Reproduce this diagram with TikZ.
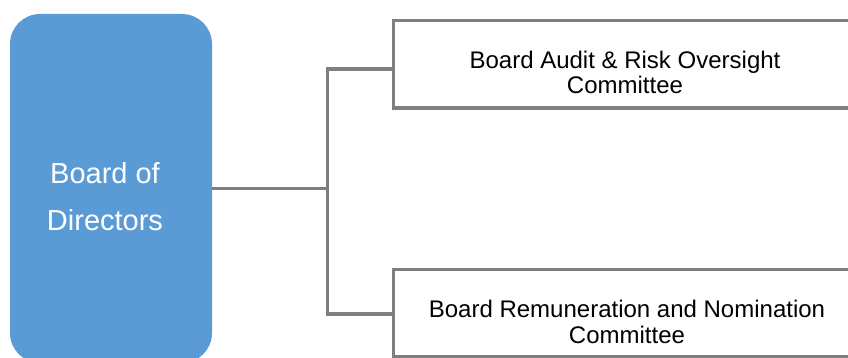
\documentclass[tikz,border=0pt]{standalone}
\usepackage{fontspec}
\setmainfont{Liberation Sans}
\definecolor{bodblue}{HTML}{5B9BD5}
\definecolor{linegray}{HTML}{7F7F7F}
\tikzset{
  bodbox/.style={rectangle, rounded corners=30pt, fill=bodblue, draw=none, inner sep=0pt},
  combox/.style={rectangle, draw=linegray, line width=3.5pt, fill=white, inner sep=0pt},
  conn/.style={draw=linegray, line width=3.5pt},
  bodtext/.style={text=white, align=center, font=\fontsize{29}{47}\selectfont, inner sep=0pt},
  comtext/.style={text=black, align=center, font=\fontsize{24}{25.5}\selectfont, inner sep=0pt}
}
\begin{document}
\begin{tikzpicture}[x=1pt, y=-1pt]
\useasboundingbox (0,0) rectangle (848,358);
\clip (0,0) rectangle (848,358);
\node[bodbox, minimum width=202pt, minimum height=349pt] (bod) at (111,188.5) {};
\node[bodtext] (bodlabel) at (105,196.9) {Board of\\Directors};
\node[combox, minimum width=464.3pt, minimum height=87.7pt] (audit) at (625.85,64.15) {};
\node[comtext] (auditlabel) at (625,72.5) {Board Audit \& Risk Oversight\\Committee};
\node[combox, minimum width=464.3pt, minimum height=87.7pt] (remun) at (625.85,313.15) {};
\node[comtext] (remunlabel) at (627,322) {Board Remuneration and Nomination\\Committee};
\coordinate (jt) at (327.7,69);
\coordinate (jb) at (327.7,314);
\draw[conn] (bod.east) -- (bod.east -| jt);
\draw[conn] (jt -| audit.west) -- (jt) -- (jb) -- (jb -| remun.west);
\end{tikzpicture}
\end{document}
